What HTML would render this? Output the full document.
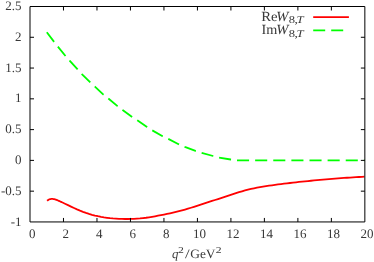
<!DOCTYPE html>
<html><head><meta charset="utf-8"><style>html,body{margin:0;padding:0;background:#fff;}svg{display:block;will-change:transform;}text{font-family:"Liberation Serif",serif;fill:#383838;text-rendering:geometricPrecision;}</style></head><body>
<svg width="374" height="262" viewBox="0 0 374 262">
<rect width="374" height="262" fill="#fff"/>
<polyline points="46.8,32.3 54.1,41.9 57.5,46.2 65.6,56.1 69.6,60.6 78.1,70 82.1,74.3 91,83.1 94.9,86.7 103.4,94.6 108.2,98.3 117.5,106.1 122.6,110.1 132.2,117.1 137.3,120.3 147,126.9 152.2,130.3 162.6,136.2 168.2,138.8 178.6,144.2 184.8,146.9 195.5,150.9 201.6,152.8 213.1,156 219,157.6 230.7,159.5 236.9,160.4 364.6,160.4" fill="none" stroke="#00ff00" stroke-width="1.8" stroke-dasharray="12.08 6.04" stroke-linejoin="round"/>
<polyline points="47.06,200.78 47.5,200.42 48.25,199.91 49.0,199.52 49.75,199.24 50.5,199.05 51.25,198.95 52.0,198.93 52.75,198.97 53.5,199.07 54.25,199.23 55.0,199.42 55.75,199.65 56.5,199.91 57.25,200.19 58.0,200.49 58.75,200.81 59.5,201.14 60.25,201.47 61.0,201.81 61.75,202.16 62.0,202.27 65.0,203.69 68.0,205.15 71.0,206.6 74.0,208.03 77.0,209.4 80.0,210.69 83.0,211.87 86.0,212.94 89.0,213.91 92.0,214.78 95.0,215.55 98.0,216.23 101.0,216.83 104.0,217.34 107.0,217.77 110.0,218.14 113.0,218.43 116.0,218.65 119.0,218.82 122.0,218.93 125.0,218.99 128.0,219.0 131.0,218.95 134.0,218.84 137.0,218.66 140.0,218.43 143.0,218.12 146.0,217.75 149.0,217.31 152.0,216.82 155.0,216.28 158.0,215.71 161.0,215.12 164.0,214.51 167.0,213.9 170.0,213.26 173.0,212.59 176.0,211.9 179.0,211.16 182.0,210.38 185.0,209.55 188.0,208.67 191.0,207.74 194.0,206.79 197.0,205.81 200.0,204.83 203.0,203.84 206.0,202.87 209.0,201.9 212.0,200.94 215.0,199.99 218.0,199.03 221.0,198.07 224.0,197.1 227.0,196.11 230.0,195.11 233.0,194.11 236.0,193.12 239.0,192.17 242.0,191.27 245.0,190.43 248.0,189.66 251.0,188.96 254.0,188.31 257.0,187.72 260.0,187.17 263.0,186.66 266.0,186.18 269.0,185.72 272.0,185.29 275.0,184.88 278.0,184.48 281.0,184.09 284.0,183.72 287.0,183.35 290.0,183.0 293.0,182.65 296.0,182.31 299.0,181.98 302.0,181.66 305.0,181.34 308.0,181.03 311.0,180.74 314.0,180.44 317.0,180.16 320.0,179.89 323.0,179.62 326.0,179.36 329.0,179.11 332.0,178.86 335.0,178.62 338.0,178.4 341.0,178.17 344.0,177.96 347.0,177.75 350.0,177.56 353.0,177.36 356.0,177.18 359.0,177.0 362.0,176.84 364.4,176.71" fill="none" stroke="#ff0000" stroke-width="1.8" stroke-linejoin="round" stroke-linecap="butt"/>
<g stroke="#000" stroke-width="1" fill="none">
<path d="M30.0,6.5 H364.85 V221.95 H30.0 Z"/>
<path d="M63.48,221.95 v-4 M63.48,6.5 v4"/>
<path d="M96.97,221.95 v-4 M96.97,6.5 v4"/>
<path d="M130.45,221.95 v-4 M130.45,6.5 v4"/>
<path d="M163.94,221.95 v-4 M163.94,6.5 v4"/>
<path d="M197.43,221.95 v-4 M197.43,6.5 v4"/>
<path d="M230.91,221.95 v-4 M230.91,6.5 v4"/>
<path d="M264.39,221.95 v-4 M264.39,6.5 v4"/>
<path d="M297.88,221.95 v-4 M297.88,6.5 v4"/>
<path d="M331.37,221.95 v-4 M331.37,6.5 v4"/>
<path d="M30.0,191.17 h4 M364.85,191.17 h-4"/>
<path d="M30.0,160.39 h4 M364.85,160.39 h-4"/>
<path d="M30.0,129.61 h4 M364.85,129.61 h-4"/>
<path d="M30.0,98.84 h4 M364.85,98.84 h-4"/>
<path d="M30.0,68.06 h4 M364.85,68.06 h-4"/>
<path d="M30.0,37.28 h4 M364.85,37.28 h-4"/>
</g>
<path d="M313.2,17.1 H348.9" stroke="#ff0000" stroke-width="1.8"/>
<path d="M313.2,30.4 H348.9" stroke="#00ff00" stroke-width="1.8" stroke-dasharray="12 6"/>
<text x="21.6" y="225.55" font-size="13" text-anchor="end">-1</text>
<text x="21.6" y="194.77" font-size="13" text-anchor="end">-0.5</text>
<text x="21.6" y="163.99" font-size="13" text-anchor="end">0</text>
<text x="21.6" y="133.21" font-size="13" text-anchor="end">0.5</text>
<text x="21.6" y="102.44" font-size="13" text-anchor="end">1</text>
<text x="21.6" y="71.66" font-size="13" text-anchor="end">1.5</text>
<text x="21.6" y="40.88" font-size="13" text-anchor="end">2</text>
<text x="21.6" y="10.10" font-size="13" text-anchor="end">2.5</text>
<text x="32.20" y="238.2" font-size="13" text-anchor="middle">0</text>
<text x="65.69" y="238.2" font-size="13" text-anchor="middle">2</text>
<text x="99.17" y="238.2" font-size="13" text-anchor="middle">4</text>
<text x="132.65" y="238.2" font-size="13" text-anchor="middle">6</text>
<text x="166.14" y="238.2" font-size="13" text-anchor="middle">8</text>
<text x="199.62" y="238.2" font-size="13" text-anchor="middle">10</text>
<text x="233.11" y="238.2" font-size="13" text-anchor="middle">12</text>
<text x="266.59" y="238.2" font-size="13" text-anchor="middle">14</text>
<text x="300.08" y="238.2" font-size="13" text-anchor="middle">16</text>
<text x="333.56" y="238.2" font-size="13" text-anchor="middle">18</text>
<text x="367.05" y="238.2" font-size="13" text-anchor="middle">20</text>
<text transform="translate(171.91,257.9) scale(1.0,1)" font-size="12.8" font-style="italic">q</text>
<text transform="translate(178.1,253.2) scale(1.3,1)" font-size="9">2</text>
<text transform="translate(184.88,257.9) scale(1.3,1)" font-size="12.8">/</text>
<text transform="translate(190.17,257.9) scale(1.051,1)" font-size="12.8">GeV</text>
<text transform="translate(215.7,253.2) scale(1.3,1)" font-size="9">2</text>
<text transform="translate(261.24,20.5) scale(1.054,1)" font-size="14">Re</text>
<text transform="translate(276.19,20.5) scale(1.039,1)" font-size="14" font-style="italic">W</text>
<text transform="translate(288.79,23.4) scale(1.21,1)" font-size="10.4">8</text>
<text transform="translate(294.5,23.4) scale(1.3,1)" font-size="10.4">,</text>
<text transform="translate(296.39,23.4) scale(1.236,1)" font-size="10.4" font-style="italic">T</text>
<text transform="translate(261.54,33.6) scale(1.016,1)" font-size="14">Im</text>
<text transform="translate(276.19,33.6) scale(1.039,1)" font-size="14" font-style="italic">W</text>
<text transform="translate(288.79,36.5) scale(1.21,1)" font-size="10.4">8</text>
<text transform="translate(294.5,36.5) scale(1.3,1)" font-size="10.4">,</text>
<text transform="translate(296.39,36.5) scale(1.236,1)" font-size="10.4" font-style="italic">T</text>
</svg></body></html>
